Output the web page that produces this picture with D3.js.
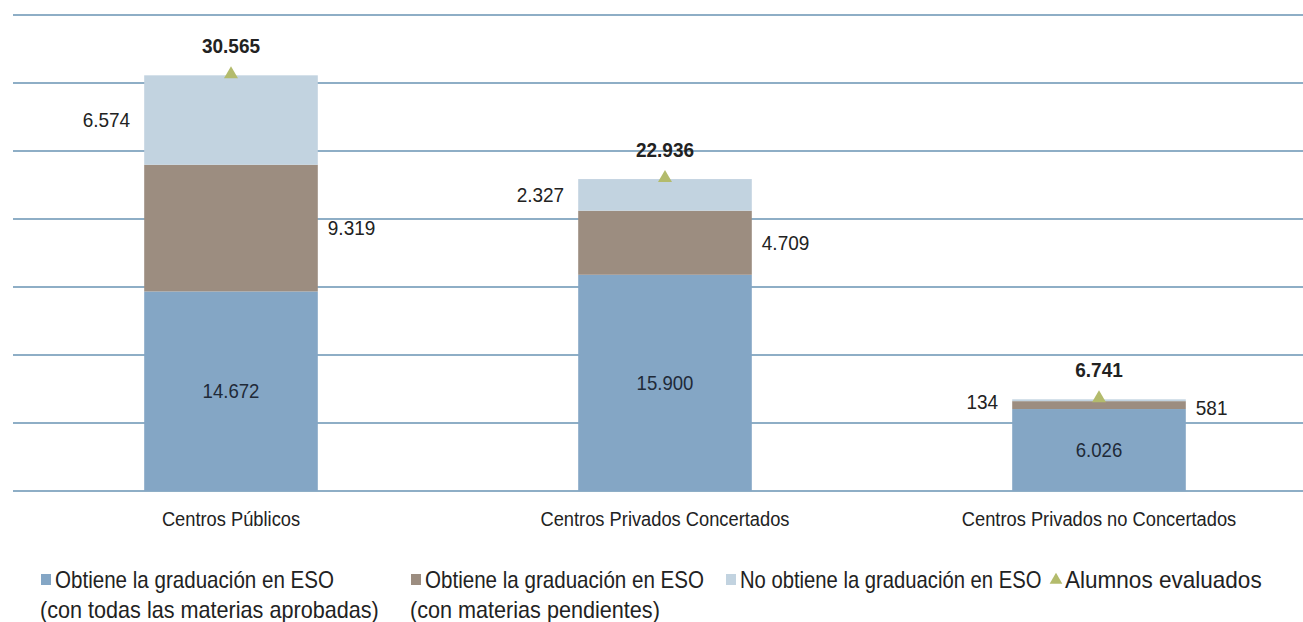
<!DOCTYPE html>
<html>
<head>
<meta charset="utf-8">
<script src="https://cdn.jsdelivr.net/npm/d3@7"></script>
<style>
  html, body { margin: 0; padding: 0; background: #fff; }
  svg { display: block; }
  text { fill: #222; }
</style>
</head>
<body>
<svg id="chart" width="1303" height="622"></svg>
<script>
const categories = ["Centros Públicos", "Centros Privados Concertados", "Centros Privados no Concertados"];
const conTodas = [14672, 15900, 6026];
const conPendientes = [9319, 4709, 581];
const noObtiene = [6574, 2327, 134];
const evaluados = [30565, 22936, 6741];
const seriesNames = ["Obtiene la graduación en ESO|(con todas las materias aprobadas)",
                     "Obtiene la graduación en ESO|(con materias pendientes)",
                     "No obtiene la graduación en ESO",
                     "Alumnos evaluados"];
const yTicks = [0, 5000, 10000, 15000, 20000, 25000, 30000, 35000];

const colors = ["#84a6c5", "#9c8d80", "#c2d3e0"];
const triColor = "#b3bb6c";
const fmt = v => d3.format(",")(v).replace(/,/g, ".");

const svg = d3.select("#chart");
const x = d3.scaleBand().domain(categories).range([14, 1316]).paddingInner(0.6).paddingOuter(0.3);
const y = d3.scaleLinear().domain([0, 35000]).range([491, 15]);

// gridlines
svg.append("g").selectAll("line").data(yTicks).join("line")
  .attr("x1", 13).attr("x2", 1303)
  .attr("y1", d => y(d)).attr("y2", d => y(d))
  .attr("stroke", "#8eaec6").attr("stroke-width", 2);

const table = categories.map((c, i) => ({cat: c, a: conTodas[i], b: conPendientes[i], c: noObtiene[i]}));
const stack = d3.stack().keys(["a", "b", "c"])(table);

const bw = x.bandwidth();
svg.append("g").selectAll("g").data(stack).join("g")
  .attr("fill", (d, i) => colors[i])
  .selectAll("rect").data(d => d).join("rect")
  .attr("x", d => x(d.data.cat)).attr("width", bw)
  .attr("y", d => y(d[1])).attr("height", d => y(d[0]) - y(d[1]));

const font = "'Liberation Sans', Arial, sans-serif";

// inside labels (series a)
svg.append("g").selectAll("text").data(stack[0]).join("text")
  .attr("transform", d => `translate(${x(d.data.cat) + bw / 2},${(y(d[0]) + y(d[1])) / 2}) scale(0.93,1)`)
  .attr("dy", "0.35em").attr("text-anchor", "middle")
  .attr("font-family", font).attr("font-size", 20).style("fill", "#1f2a38")
  .text(d => fmt(d[1] - d[0]));

// right labels (series b)
svg.append("g").selectAll("text").data(stack[1]).join("text")
  .attr("transform", (d, i) => `translate(${x(d.data.cat) + bw + 10},${(y(d[0]) + y(d[1])) / 2 + (i === 2 ? 3 : 0)}) scale(0.95,1)`)
  .attr("dy", "0.35em").attr("text-anchor", "start")
  .attr("font-family", font).attr("font-size", 20)
  .text(d => fmt(d[1] - d[0]));

// left labels (series c)
svg.append("g").selectAll("text").data(stack[2]).join("text")
  .attr("transform", (d, i) => `translate(${x(d.data.cat) - 14},${(y(d[0]) + y(d[1])) / 2 + (i === 2 ? 2 : 0)}) scale(0.95,1)`)
  .attr("dy", "0.35em").attr("text-anchor", "end")
  .attr("font-family", font).attr("font-size", 20)
  .text(d => fmt(d[1] - d[0]));

// triangles for totals
const tri = d3.symbol().type(d3.symbolTriangle).size(85);
svg.append("g").selectAll("path").data(evaluados).join("path")
  .attr("d", tri)
  .attr("transform", (d, i) => `translate(${x(categories[i]) + bw / 2},${y(d) - 1})`)
  .attr("fill", triColor);

svg.append("g").selectAll("text").data(evaluados).join("text")
  .attr("transform", (d, i) => `translate(${x(categories[i]) + bw / 2},${y(d) - 29}) scale(0.95,1)`)
  .attr("dy", "0.35em").attr("text-anchor", "middle")
  .attr("font-family", font).attr("font-size", 20).attr("font-weight", "bold")
  .text(d => fmt(d));

// x axis labels
const xAxis = d3.axisBottom(x).tickSize(0).tickPadding(0);
const gx = svg.append("g").attr("transform", "translate(0,519)").call(xAxis);
gx.select(".domain").remove();
gx.selectAll(".tick text").attr("font-family", font).attr("font-size", 20)
  .attr("dy", "0.35em").attr("y", 0).attr("transform", "scale(0.915,1)")
  .style("fill", "#222");

// legend
const legendX = [40, 410, 725, 1050];
const legendScale = [[0.895, 0.94], [0.895, 0.94], [0.88], [0.98]];
const lg = svg.append("g");
seriesNames.forEach((name, i) => {
  const g = lg.append("g").attr("transform", `translate(${legendX[i]},580)`);
  if (i < 3) {
    g.append("rect").attr("x", 1).attr("y", -6).attr("width", 10).attr("height", 11).attr("fill", colors[i]);
  } else {
    g.append("path").attr("d", d3.symbol().type(d3.symbolTriangle).size(70)).attr("transform", "translate(6,0)").attr("fill", triColor);
  }
  const lines = name.split("|");
  lines.forEach((ln, j) => {
    g.append("text")
      .attr("transform", `translate(${j === 0 ? 15 : 0},${j * 30}) scale(${legendScale[i][j]},1)`)
      .attr("dy", "0.35em").attr("font-family", font).attr("font-size", 23)
      .text(ln);
  });
});
</script>
</body>
</html>
